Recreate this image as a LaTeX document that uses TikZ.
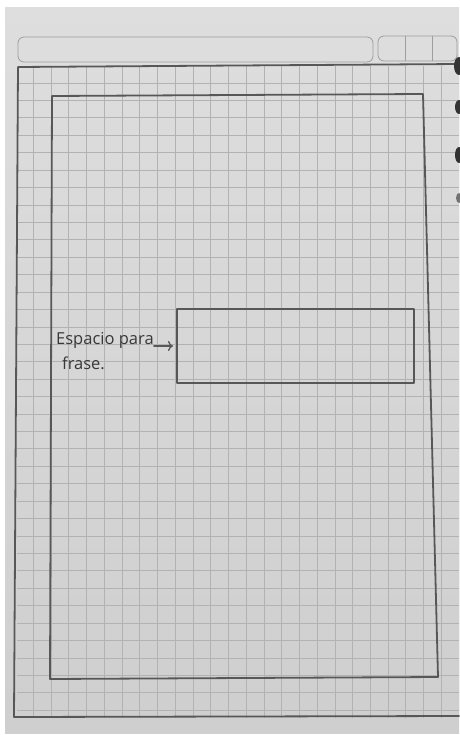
\documentclass[tikz,border=0pt]{standalone}
\usepackage{fontspec}
\setmainfont{Open Sans}
\usetikzlibrary{arrows.meta}
\begin{document}
\begin{tikzpicture}[x=1pt,y=-1pt,
  pencil/.style={draw=black!66,line width=1.8pt,line join=round,line cap=round},
  faint/.style={draw=black!38,line width=0.8pt},
  gridline/.style={draw=black!30,line width=0.7pt},
  hand/.style={font=\fontsize{16.5}{18}\selectfont,text=black!78,inner sep=0pt,anchor=west},
  blob/.style={fill=black!80,draw=none}]
\useasboundingbox (0,0) rectangle (459,735);
\fill[white] (0,0) rectangle (459,735);
% paper
\shade[top color=black!13,bottom color=black!19] (5,8) rectangle (459,733);
% grid
\begin{scope}
\clip (17,67) rectangle (459,717);
\foreach \i in {0,...,24} {\draw[gridline] ({33.3+17.74*\i},60) -- ({33.3+17.74*\i},720);}
\foreach \j in {-1,...,37} {\draw[gridline] (10,{83+17.42*\j}) -- (459,{83+17.42*\j});}
\end{scope}
% top bar
\draw[faint,rounded corners=6pt] (18,37) rectangle (373,62);
\draw[faint,rounded corners=6pt] (378,36) rectangle (457,61);
\draw[faint] (405,36) -- (405,61);
\draw[faint] (432,36) -- (432,61);
% outer frame
\coordinate (o1) at (459,64);
\coordinate (o2) at (18,67);
\coordinate (o3) at (14,717);
\coordinate (o4) at (459,716);
\draw[pencil] (o1) -- (o2) -- (o3) -- (o4);
% inner frame
\coordinate (i1) at (52,96);
\coordinate (i2) at (423,94);
\coordinate (i3) at (438,677);
\coordinate (i4) at (50,679);
\draw[pencil] (i1) -- (i2) -- (i3) -- (i4) -- cycle;
% phrase box
\node[pencil,minimum width=237pt,minimum height=74pt,inner sep=0pt,anchor=north west] (box) at (176,308) {};
% labels
\node[hand] (lbl) at (56,340) {Espacio para};
\node[hand] (lbl2) at (62,363) {frase.};
\draw[pencil,line width=1.3pt,-{To[length=5pt,width=10pt]}] (lbl.east) ++(0,6) coordinate (a0) -- ([xshift=-3pt]box.west |- a0);
% binder blobs
\fill[blob] (459,66) ellipse (5pt and 9pt);
\fill[blob] (459,107) ellipse (4pt and 7pt);
\fill[blob] (459,155) ellipse (4pt and 8pt);
\fill[black!55] (459,198) ellipse (3pt and 5pt);
\end{tikzpicture}
\end{document}
